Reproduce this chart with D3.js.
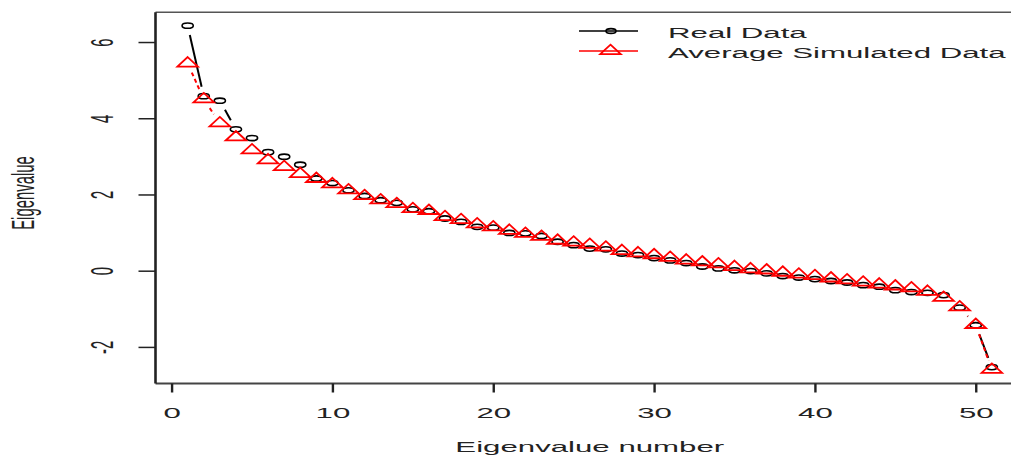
<!DOCTYPE html>
<html><head><meta charset="utf-8">
<script src="https://cdn.jsdelivr.net/npm/d3@7"></script>
<style>html,body{margin:0;padding:0;background:#fff;overflow:hidden}</style>
</head><body>
<svg id="chart" width="1011" height="461"></svg>
<script>
// ---- data ----
const eigenNumbers = d3.range(1, 52);
const realData = [6.43, 4.58, 4.46, 3.71, 3.48, 3.11, 2.99, 2.78, 2.42, 2.30,
  2.11, 1.96, 1.85, 1.78, 1.61, 1.56, 1.37, 1.28, 1.15, 1.13,
  0.99, 0.98, 0.91, 0.76, 0.67, 0.58, 0.56, 0.45, 0.41, 0.33,
  0.27, 0.20, 0.11, 0.06, 0.01, -0.01, -0.07, -0.14, -0.18, -0.22,
  -0.27, -0.31, -0.38, -0.42, -0.51, -0.56, -0.58, -0.64, -0.97, -1.43, -2.53];
const simData = [5.44, 4.50, 3.87, 3.50, 3.16, 2.90, 2.72, 2.54, 2.41, 2.27,
  2.11, 1.96, 1.85, 1.75, 1.62, 1.57, 1.41, 1.33, 1.22, 1.14,
  1.05, 0.97, 0.89, 0.79, 0.74, 0.68, 0.61, 0.52, 0.46, 0.41,
  0.34, 0.27, 0.22, 0.17, 0.10, 0.04, 0.01, -0.05, -0.10, -0.14,
  -0.20, -0.25, -0.31, -0.36, -0.41, -0.46, -0.55, -0.71, -0.96, -1.42, -2.60];
const xTicks = [0, 10, 20, 30, 40, 50];
const yTicks = [-2, 0, 2, 4, 6];
const seriesNames = ["Real Data", "Average Simulated Data"];
const xTitle = "Eigenvalue number";
const yTitle = "Eigenvalue";

// ---- look ----
const SX = 1.95, SY = 0.93;     // the picture is stretched wide
const GAP = 10.1;               // type="b" gap around points (unstretched px)
const FONT = "'Liberation Sans', Arial, sans-serif";
const textT = `scale(${SX},${SY})`;

const svg = d3.select("#chart");
const x = d3.scaleLinear().domain([-1, 53]).range([155.5, 1024]);
const y = d3.scaleLinear().domain([-2.96, 6.78]).range([383.5, 12.3]);
const [x0, x1] = x.range(), [yB, yT] = y.range();

// box
const box = svg.append("g");
box.append("line").attr("x1", x0).attr("x2", x1).attr("y1", yT).attr("y2", yT)
  .attr("stroke", "#555").attr("stroke-width", 1.6);
box.append("line").attr("x1", x0).attr("x2", x1).attr("y1", yB).attr("y2", yB)
  .attr("stroke", "#444").attr("stroke-width", 1.8);
box.append("line").attr("x1", x0).attr("x2", x0).attr("y1", yT).attr("y2", yB)
  .attr("stroke", "#222").attr("stroke-width", 2.6);

// x axis
const gx = svg.append("g").attr("transform", `translate(0,${yB})`)
  .call(d3.axisBottom(x).tickValues(xTicks).tickSize(9).tickSizeOuter(0));
gx.select(".domain").remove();
gx.selectAll(".tick line").attr("stroke", "#222").attr("stroke-width", 2.4);
gx.selectAll(".tick text").attr("x", 0).attr("y", 0).attr("dy", 0)
  .attr("transform", `translate(0,34) ${textT}`)
  .attr("font-family", FONT).attr("font-size", 16).attr("fill", "#222")
  .attr("text-anchor", "middle");

// y axis
const gy = svg.append("g").attr("transform", `translate(${x0},0)`)
  .call(d3.axisLeft(y).tickValues(yTicks).tickSize(17).tickSizeOuter(0)
    .tickFormat(d3.format("d")));
gy.select(".domain").remove();
gy.selectAll(".tick line").attr("stroke", "#222").attr("stroke-width", 1.5);
gy.selectAll(".tick text").attr("x", 0).attr("y", 0).attr("dy", 0)
  .attr("transform", `translate(-43,0) ${textT} rotate(-90)`)
  .attr("font-family", FONT).attr("font-size", 16).attr("fill", "#222")
  .attr("text-anchor", "middle").text(d => d < 0 ? "-" + Math.abs(d) : d);

// titles
svg.append("text").attr("transform", `translate(${(x0 + x1) / 2},452) ${textT}`)
  .attr("text-anchor", "middle").attr("font-family", FONT).attr("font-size", 16)
  .attr("fill", "#222").text(xTitle);
svg.append("text").attr("transform", `translate(34,193) ${textT} rotate(-90)`)
  .attr("text-anchor", "middle").attr("font-family", FONT).attr("font-size", 16)
  .attr("fill", "#222").text(yTitle);

// series drawing (type = "b")
function gapSegments(data) {
  const pts = data.map((v, i) => [x(eigenNumbers[i]), y(v)]);
  const segs = [];
  for (let i = 0; i < pts.length - 1; i++) {
    const [ax, ay] = pts[i], [bx, by] = pts[i + 1];
    const L = Math.hypot((bx - ax) / SX, (by - ay) / SY);
    if (L <= 2 * GAP) continue;
    const f = GAP / L;
    segs.push([ax + (bx - ax) * f, ay + (by - ay) * f, bx - (bx - ax) * f, by - (by - ay) * f]);
  }
  return segs;
}
const TW = 20.5, TH = 9.5;
const triPath = `M0,${-2 * TH / 3}L${TW / 2},${TH / 3}L${-TW / 2},${TH / 3}Z`;

const plot = svg.append("g");
// real data
plot.append("g").selectAll("line").data(gapSegments(realData)).join("line")
  .attr("x1", d => d[0]).attr("y1", d => d[1]).attr("x2", d => d[2]).attr("y2", d => d[3])
  .attr("stroke", "#000").attr("stroke-width", 2);
plot.append("g").selectAll("ellipse").data(realData).join("ellipse")
  .attr("cx", (d, i) => x(eigenNumbers[i])).attr("cy", d => y(d))
  .attr("rx", 5.6).attr("ry", 2.6).attr("fill", "none")
  .attr("stroke", "#000").attr("stroke-width", 1.6);
// simulated data
plot.append("g").selectAll("line").data(gapSegments(simData)).join("line")
  .attr("x1", d => d[0]).attr("y1", d => d[1]).attr("x2", d => d[2]).attr("y2", d => d[3])
  .attr("stroke", "#f00").attr("stroke-width", 2).attr("stroke-dasharray", "4,3");
plot.append("g").selectAll("path").data(simData).join("path")
  .attr("transform", (d, i) => `translate(${x(eigenNumbers[i])},${y(d)})`)
  .attr("d", triPath).attr("fill", "none").attr("stroke", "#f00").attr("stroke-width", 1.8);

// legend
const lg = svg.append("g");
const legY = [31, 51];
lg.append("line").attr("x1", 579).attr("x2", 638).attr("y1", legY[0]).attr("y2", legY[0])
  .attr("stroke", "#000").attr("stroke-width", 1.6);
lg.append("ellipse").attr("cx", 611).attr("cy", legY[0]).attr("rx", 5).attr("ry", 2.4)
  .attr("fill", "none").attr("stroke", "#000").attr("stroke-width", 1.6);
lg.append("line").attr("x1", 579).attr("x2", 638).attr("y1", legY[1]).attr("y2", legY[1])
  .attr("stroke", "#f00").attr("stroke-width", 1.4);
lg.append("path").attr("transform", `translate(610.5,${legY[1]})`).attr("d", triPath)
  .attr("fill", "none").attr("stroke", "#f00").attr("stroke-width", 1.8);
lg.selectAll("text").data(seriesNames).join("text")
  .attr("transform", (d, i) => `translate(668,${[37.5, 57.5][i]}) ${textT}`)
  .attr("font-family", FONT).attr("font-size", 16).attr("fill", "#222").text(d => d);
</script>
</body></html>
